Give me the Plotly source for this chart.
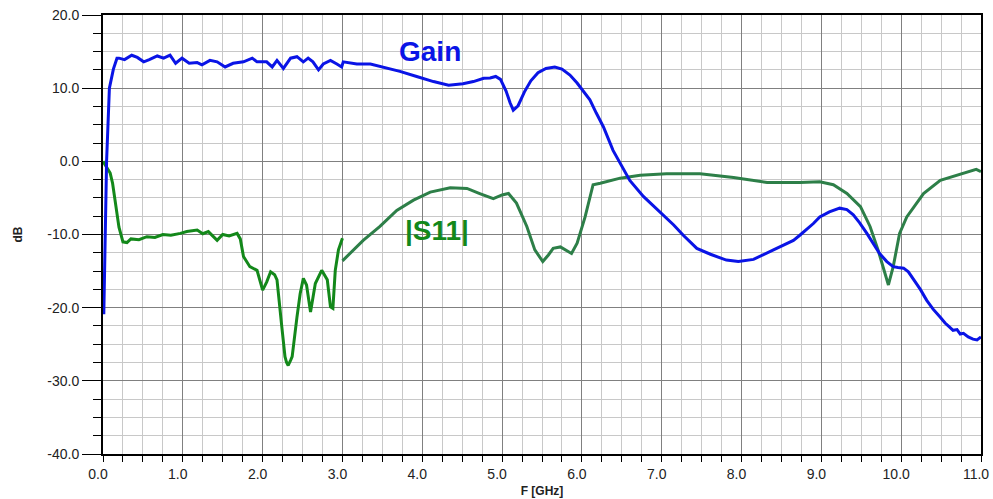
import plotly.graph_objects as go

# Gain trace (GHz, dB)
gain_f = [0.01, 0.02, 0.035, 0.045, 0.08, 0.13, 0.175, 0.20, 0.27, 0.36, 0.43, 0.51, 0.58, 0.68, 0.76, 0.84, 0.91,
          0.99, 1.08, 1.18, 1.24, 1.34, 1.43, 1.53, 1.63, 1.76, 1.87, 1.93, 2.05, 2.12, 2.18, 2.26, 2.35, 2.43,
          2.51, 2.57, 2.63, 2.70, 2.76, 2.85, 2.93, 2.99, 3.01, 3.18, 3.35, 3.51, 3.72, 3.93, 4.14, 4.33, 4.51,
          4.64, 4.77, 4.85, 4.92, 4.98, 5.05, 5.10, 5.14, 5.20, 5.28, 5.36, 5.45, 5.55, 5.66, 5.75, 5.85, 5.94,
          6.02, 6.10, 6.18, 6.27, 6.39, 6.50, 6.60, 6.77, 6.90, 7.02, 7.15, 7.27, 7.44, 7.61, 7.81, 7.96, 8.15,
          8.40, 8.65, 8.73, 8.90, 8.98, 9.10, 9.23, 9.32, 9.40, 9.48, 9.57, 9.65, 9.73, 9.82, 9.90, 9.96, 10.03,
          10.09, 10.15, 10.24, 10.32, 10.40, 10.49, 10.55, 10.60, 10.65, 10.70, 10.74, 10.78, 10.84, 10.90,
          10.95, 11.00]
gain_db = [-20.9, -15.0, -5.0, 0.0, 10.0, 12.6, 14.1, 14.1, 13.9, 14.5, 14.2, 13.6, 13.9, 14.4, 14.1, 14.5, 13.4,
           14.1, 13.4, 13.5, 13.2, 13.8, 13.6, 12.9, 13.4, 13.6, 14.1, 13.6, 13.6, 12.9, 13.8, 12.7, 14.1, 14.3,
           13.6, 14.1, 13.6, 12.5, 13.3, 13.8, 13.3, 12.9, 13.6, 13.3, 13.3, 12.9, 12.3, 11.6, 10.9, 10.4, 10.6,
           10.9, 11.35, 11.4, 11.6, 11.2, 9.6, 8.0, 7.0, 7.6, 9.5, 11.0, 12.1, 12.7, 12.9, 12.6, 11.8, 10.7,
           9.6, 8.4, 6.6, 4.7, 1.5, -0.6, -2.6, -4.8, -6.1, -7.3, -8.7, -10.1, -11.9, -12.7, -13.5, -13.7, -13.4,
           -12.1, -10.8, -10.1, -8.5, -7.6, -6.9, -6.4, -6.6, -7.3, -8.4, -9.85, -11.3, -12.6, -13.7, -14.4, -14.5,
           -14.6, -15.1, -16.0, -17.5, -19.0, -20.2, -21.3, -22.1, -22.6, -23.1, -23.0, -23.6, -23.5, -24.0, -24.3,
           -24.4, -24.0]

# |S11| low band segment (0 - 3 GHz)
s11a_f = [0.0, 0.05, 0.09, 0.12, 0.16, 0.20, 0.25, 0.30, 0.35, 0.45, 0.55, 0.65, 0.75, 0.85, 0.97, 1.05, 1.18,
          1.25, 1.32, 1.43, 1.50, 1.58, 1.68, 1.72, 1.76, 1.84, 1.93, 2.00, 2.05, 2.10, 2.15, 2.18, 2.24, 2.28,
          2.30, 2.32, 2.35, 2.37, 2.43, 2.47, 2.51, 2.55, 2.60, 2.66, 2.74, 2.81, 2.85, 2.88, 2.91, 2.95, 3.00]
s11a_db = [0.0, -0.8, -1.6, -3.0, -6.0, -9.0, -11.0, -11.1, -10.6, -10.7, -10.3, -10.4, -10.0, -10.1, -9.85, -9.6,
           -9.4, -9.9, -9.6, -10.8, -10.0, -10.2, -9.85, -10.6, -13.0, -14.4, -14.9, -17.6, -16.5, -15.1, -15.5,
           -16.2, -22.6, -26.7, -27.5, -27.9, -27.2, -26.7, -21.3, -18.1, -16.0, -16.9, -20.6, -16.7, -14.9, -16.2,
           -19.9, -20.1, -14.9, -12.1, -10.5]

# |S11| high band segment (3 - 11 GHz)
s11b_f = [3.00, 3.26, 3.47, 3.68, 3.89, 4.10, 4.35, 4.56, 4.72, 4.89, 5.00, 5.08, 5.18, 5.31, 5.41, 5.51, 5.58,
          5.64, 5.73, 5.80, 5.87, 5.94, 6.04, 6.14, 6.23, 6.48, 6.73, 7.06, 7.48, 7.90, 8.32, 8.73, 8.98, 9.15,
          9.32, 9.49, 9.61, 9.71, 9.80, 9.84, 9.90, 9.98, 10.07, 10.28, 10.49, 10.69, 10.94, 11.00]
s11b_db = [-13.6, -10.8, -8.9, -6.7, -5.3, -4.2, -3.6, -3.7, -4.4, -5.1, -4.6, -4.4, -5.7, -8.9, -12.1, -13.7,
           -12.8, -11.9, -11.7, -12.2, -12.6, -11.2, -7.6, -3.2, -3.0, -2.3, -1.9, -1.7, -1.7, -2.2, -2.9, -2.9,
           -2.8, -3.2, -4.4, -6.2, -8.9, -12.1, -15.3, -16.9, -14.4, -9.85, -7.6, -4.4, -2.6, -1.9, -1.1, -1.4]

x_ticks = [0, 1, 2, 3, 4, 5, 6, 7, 8, 9, 10, 11]
x_labels = ["0.0", "1.0", "2.0", "3.0", "4.0", "5.0", "6.0", "7.0", "8.0", "9.0", "10.0", "11.0"]
y_ticks = [-40, -30, -20, -10, 0, 10, 20]
y_labels = ["-40.0", "-30.0", "-20.0", "-10.0", "0.0", "10.0", "20.0"]

FONT = "Liberation Sans, Arial, sans-serif"

fig = go.Figure()
fig.add_trace(go.Scatter(x=s11a_f, y=s11a_db, mode="lines", line=dict(color="#13881a", width=3), showlegend=False))
fig.add_trace(go.Scatter(x=s11b_f, y=s11b_db, mode="lines", line=dict(color="#2d7f48", width=3), showlegend=False))
fig.add_trace(go.Scatter(x=gain_f, y=gain_db, mode="lines", line=dict(color="#0a14e6", width=3), showlegend=False))

fig.add_annotation(x=4.1, y=14.95, text="<b>Gain</b>", showarrow=False,
                   font=dict(family=FONT, size=28, color="#0a14e6"))
fig.add_annotation(x=4.18, y=-9.5, text="<b>|S11|</b>", showarrow=False,
                   font=dict(family=FONT, size=28, color="#13881a"))

axis_common = dict(showline=True, linecolor="black", linewidth=2, mirror=True,
                   gridcolor="#808080", gridwidth=1, zeroline=False, automargin=False,
                   ticks="outside", tickcolor="black", ticklabeloverflow="allow",
                   tickfont=dict(family=FONT, size=14, color="#222222"))

fig.update_xaxes(range=[0, 11], tickvals=x_ticks, ticktext=x_labels, ticklen=6, ticklabelshift=-5,
                 minor=dict(dtick=0.25, ticks="outside", ticklen=6, tickcolor="black",
                            showgrid=True, gridcolor="#c8c8c8", gridwidth=1),
                 title=dict(text="<b>F [GHz]</b>", font=dict(family=FONT, size=12, color="#222222"), standoff=6),
                 **axis_common)
fig.update_yaxes(range=[-40, 20], tickvals=y_ticks, ticktext=y_labels, ticklen=19,
                 minor=dict(dtick=2.5, ticks="outside", ticklen=8, tickcolor="black",
                            showgrid=True, gridcolor="#c8c8c8", gridwidth=1),
                 title=dict(text="<b>dB</b>", font=dict(family=FONT, size=12, color="#222222"), standoff=22),
                 **axis_common)

fig.update_layout(width=993, height=499, margin=dict(l=103, r=12, t=15, b=45),
                  paper_bgcolor="white", plot_bgcolor="white")

fig.write_html("out.html")
